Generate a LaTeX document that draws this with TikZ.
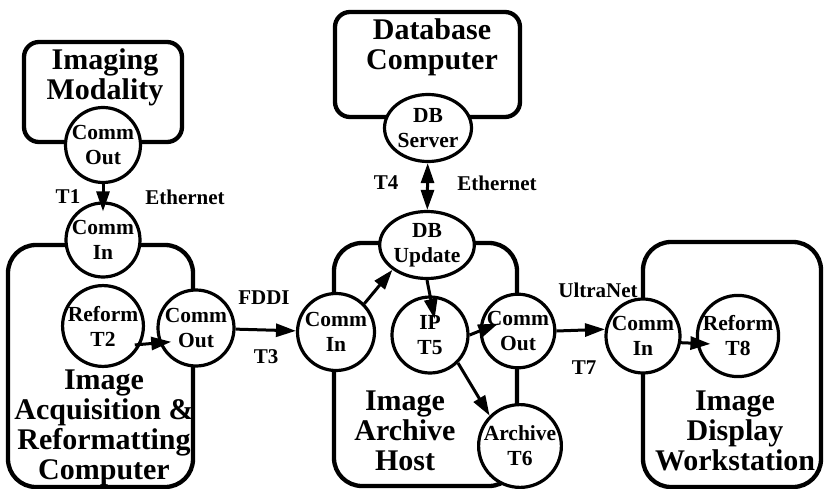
\documentclass[tikz,border=0pt]{standalone}
\usepackage{fontspec}
\setmainfont{Liberation Serif}
\usetikzlibrary{arrows.meta,positioning,shapes.geometric}
\tikzset{
  unit/.style={
    draw,
    line width=4.3pt,
    rounded corners=28pt,
    inner sep=0pt
  },
  title/.style={font=\bfseries\fontsize{30}{30}\selectfont, align=center, inner sep=0pt},
  port/.style={
    circle,
    draw,
    line width=3.2pt,
    fill=white,
    minimum size=75pt,
    inner sep=0pt,
    align=center,
    font=\bfseries\fontsize{21.5}{25}\selectfont
  },
  dbport/.style={port, ellipse, minimum width=87pt, minimum height=67pt},
  line/.style={-{Triangle[length=20pt,width=13pt]}, line width=3pt},
  twoway/.style={{Triangle[length=20pt,width=13pt]}-{Triangle[length=20pt,width=13pt]}, line width=3pt},
  netlabel/.style={font=\bfseries\fontsize{21}{25}\selectfont, inner sep=0pt}
}

\begin{document}
\begin{tikzpicture}[x=1pt,y=-1pt]
\useasboundingbox (0,0) rectangle (824,489);

% computers
\node[unit, rounded corners=15pt, minimum width=158pt, minimum height=100pt] (modbox) at (103,92) {};
\node[unit, rounded corners=15pt, minimum width=185pt, minimum height=105pt] (dbbox) at (427.5,64.5) {};
\node[unit, minimum width=185pt, minimum height=242pt] (acqbox) at (100.5,366) {};
\node[unit, minimum width=183pt, minimum height=243pt] (arcbox) at (425.5,364.5) {};
\node[unit, minimum width=178pt, minimum height=245pt] (dispbox) at (732,364.5) {};

\node[title] (modtitle) at (105,77) {Imaging\\Modality};
\node[title] (dbtitle) at (432,47) {Database\\Computer};
\node[title] (acqtitle) at (104,428) {Image\\Acquisition \&\\Reformatting\\Computer};
\node[title] (arctitle) at (405,431) {Image\\Archive\\Host};
\node[title] (disptitle) at (735,431) {Image\\Display\\Workstation};

% processes
\node[port] (modout) at (103,145) {Comm\\Out};
\node[port, minimum size=74pt] (acqin) at (103,240) {Comm\\In};
\node[port, minimum size=72pt] (reform2) at (103,326) {Reform\\T2};
\node[port, minimum size=76pt] (acqout) at (196,328) {Comm\\Out};
\node[dbport] (dbsrv) at (428,128) {DB\\Server};
\node[port, minimum size=77pt] (arcin) at (336,332) {Comm\\In};
\node[dbport, minimum width=82pt] (dbupd) at (427,245) {DB\\Update};
\node[port, minimum size=76pt] (ip) at (430,335) {IP\\T5};
\node[port, minimum size=72pt] (arcout) at (518,331) {Comm\\Out};
\node[port, minimum size=80pt] (archive) at (520,446) {Archive\\T6};
\node[port, minimum size=74pt] (dispin) at (643,336) {Comm\\In};
\node[port, minimum size=72pt] (reform8) at (738,336) {Reform\\T8};

\draw[line, shorten >=-10pt] (modout) -- (acqin);
\draw[line, shorten <=-6pt, shorten >=-12pt] (reform2.-26) -- (acqout.202);
\draw[line] (acqout) -- (arcin);
\draw[twoway] (dbsrv) -- (dbupd);
\draw[line] (arcin.north east) -- (dbupd.south west);
\draw[line, shorten >=-24pt] (dbupd.south) -- (ip.north);
\draw[line, shorten >=-20pt] (ip.east) -- (arcout.west);
\draw[line] (ip.south east) -- (archive.north west);
\draw[line] (arcout.east) -- (dispin.170);
\draw[line, shorten >=-14pt] (dispin.-10) -- (reform8.190);

% networks
\node[netlabel] (t1) at (68,197) {T1};
\node[netlabel] (eth1) at (185,197) {Ethernet};
\node[netlabel] (fddi) at (264,298) {FDDI};
\node[netlabel] (t3) at (266,357) {T3};
\node[netlabel] (t4) at (386,183) {T4};
\node[netlabel] (eth2) at (497,183) {Ethernet};
\node[netlabel] (ultra) at (598,290) {UltraNet};
\node[netlabel] (t7) at (584,368) {T7};
\end{tikzpicture}
\end{document}
